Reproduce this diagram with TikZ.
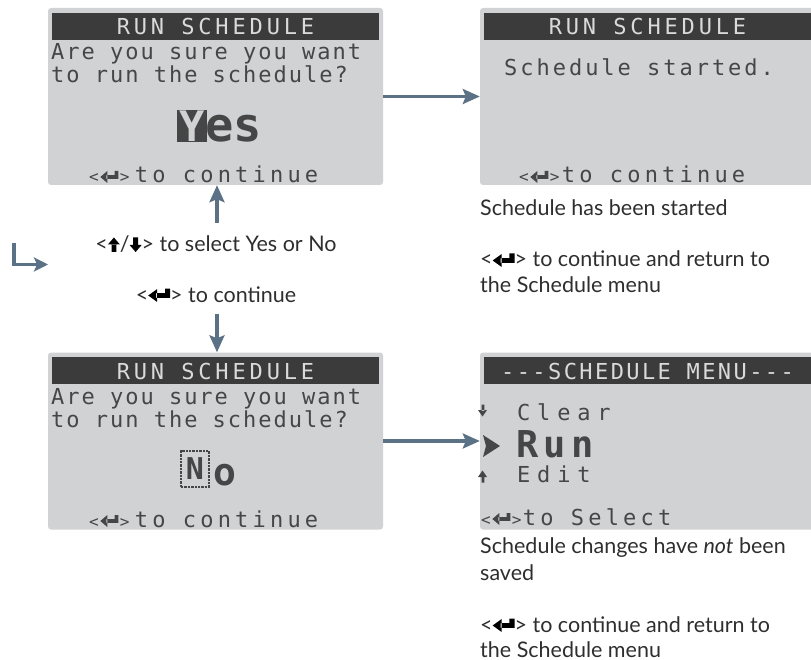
\documentclass[tikz,border=0pt]{standalone}
\usepackage{fontspec}
\setmainfont{Lato}
% dot-matrix display text, with different letter pitches per line type
\newfontfamily\lcdbody[LetterSpace=9]{DejaVu Sans Mono}
\newfontfamily\lcdhead[LetterSpace=17.5]{DejaVu Sans Mono}
\newfontfamily\lcdmenuhead[LetterSpace=11]{DejaVu Sans Mono}
\newfontfamily\lcdfoot[LetterSpace=19]{DejaVu Sans Mono}
\newfontfamily\lcdmenu[LetterSpace=31]{DejaVu Sans Mono}
\newfontfamily\lcdstart[LetterSpace=13.5]{DejaVu Sans Mono}
\newfontfamily\lcdrun[LetterSpace=15]{DejaVu Sans Mono}
\newfontfamily\lcdbig{DejaVu Sans Mono}
\usetikzlibrary{arrows.meta}

\definecolor{screenbg}{HTML}{D1D2D4}
\definecolor{headbg}{HTML}{3B3B3B}
\definecolor{lcdink}{HTML}{464646}
\definecolor{headink}{HTML}{DADADA}
\definecolor{flow}{HTML}{5A7186}
\definecolor{note}{HTML}{2E2E2E}

% small helpers for the key glyphs (plain pgf, in pt)
\newcommand\gtri[6]{\pgfpathmoveto{\pgfpoint{#1pt}{#2pt}}%
  \pgfpathlineto{\pgfpoint{#3pt}{#4pt}}%
  \pgfpathlineto{\pgfpoint{#5pt}{#6pt}}\pgfpathclose}
\newcommand\grect[4]{\pgfpathrectanglecorners{\pgfpoint{#1pt}{#2pt}}{\pgfpoint{#3pt}{#4pt}}}

\newsavebox\enterlcd
\newsavebox\enternote
\newsavebox\upnote
\newsavebox\downnote

% the "<enter>" key as shown on the display
\newcommand\lcdkey{{\fontsize{16}{16}\selectfont<}\hspace{1.5pt}\usebox\enterlcd\hspace{1.5pt}{\fontsize{16}{16}\selectfont>}}

\begin{document}
% key glyphs drawn once and reused inline
\sbox\enterlcd{\begin{pgfpicture}\pgfsetfillcolor{lcdink}%
  \gtri{0}{4.5}{7}{10.5}{7}{-1.5}\grect{6}{2.6}{18}{6.4}\grect{14.4}{2.6}{18}{10.5}%
  \pgfusepath{fill}\end{pgfpicture}}
\sbox\enternote{\begin{pgfpicture}\pgfsetfillcolor{black}%
  \gtri{0}{5.5}{9}{12}{9}{-1}\grect{8}{3.2}{22}{7.8}\grect{16.8}{3.2}{22}{12.5}%
  \pgfusepath{fill}\end{pgfpicture}}
\sbox\upnote{\begin{pgfpicture}\pgfsetfillcolor{black}%
  \gtri{0}{7.5}{6}{14.5}{12}{7.5}\grect{3.6}{0}{8.4}{8}%
  \pgfusepath{fill}\end{pgfpicture}}
\sbox\downnote{\begin{pgfpicture}\pgfsetfillcolor{black}%
  \gtri{0}{7}{6}{0}{12}{7}\grect{3.6}{6.5}{8.4}{14.5}%
  \pgfusepath{fill}\end{pgfpicture}}

\begin{tikzpicture}[x=1pt,y=-1pt,
  screen/.style={fill=screenbg, rounded corners=3pt, minimum width=335pt,
    minimum height=177pt, inner sep=0pt},
  headbar/.style={fill=headbg, minimum width=327pt, minimum height=27pt,
    inner sep=0pt},
  headtxt/.style={text=headink, inner sep=0pt, anchor=base,
    font=\lcdhead\fontsize{22}{22}\selectfont},
  lcdtxt/.style={text=lcdink, inner sep=0pt, anchor=base west,
    font=\lcdbody\fontsize{22}{22}\selectfont},
  foottxt/.style={lcdtxt, font=\lcdfoot\fontsize{22}{22}\selectfont},
  footkey/.style={lcdtxt, font=\lcdbig\fontsize{22}{22}\selectfont},
  menuitem/.style={lcdtxt, font=\lcdmenu\fontsize{22}{22}\selectfont},
  notetxt/.style={text=note, inner sep=0pt, anchor=base west,
    font=\fontsize{21.5}{21.5}\selectfont},
  captxt/.style={text=note, inner sep=0pt, anchor=base,
    font=\fontsize{21.5}{21.5}\selectfont},
  flowarrow/.style={draw=flow, line width=3.2pt,
    -{Stealth[length=17pt, width=15pt, inset=3pt]}}
]
\useasboundingbox (0,0) rectangle (811,660);

% ---- confirmation screen, "Yes" selected
\node[screen] (s1) at (215.5,96.5) {};
\node[headbar] (h1) at (215.5,26.5) {};
\node[headtxt] (h1t) at (215.5,35) {RUN SCHEDULE};
\node[lcdtxt] (s1l1) at (51,60) {Are you sure you want};
\node[lcdtxt] (s1l2) at (51,83) {to run the schedule?};
\node[fill=lcdink, text=screenbg, minimum width=30pt, minimum height=32pt,
      inner sep=0pt, font=\lcdbig\bfseries\fontsize{42}{42}\selectfont] (ycur) at (192,126) {Y};
\node[text=lcdink, inner sep=0pt, anchor=base west,
      font=\lcdbig\bfseries\fontsize{47}{47}\selectfont] (yrest) at (205,142) {es};
\node[footkey] (s1k) at (89,183) {\lcdkey};
\node[foottxt] (s1f) at ([xshift=5pt]s1k.base east) {to continue};

% ---- schedule started screen
\node[screen] (s2) at (647.5,96.5) {};
\node[headbar] (h2) at (647.5,26.5) {};
\node[headtxt] (h2t) at (647.5,35) {RUN SCHEDULE};
\node[lcdtxt, font=\lcdstart\fontsize{22}{22}\selectfont] (s2l1) at (504,76) {Schedule started.};
\node[footkey] (s2k) at (519,183) {\lcdkey};
\node[foottxt] (s2f) at ([xshift=2pt]s2k.base east) {to continue};

% ---- confirmation screen, "No" selected
\node[screen] (s3) at (215.5,441) {};
\node[headbar] (h3) at (215.5,370.5) {};
\node[headtxt] (h3t) at (215.5,379) {RUN SCHEDULE};
\node[lcdtxt] (s3l1) at (51,404) {Are you sure you want};
\node[lcdtxt] (s3l2) at (51,427) {to run the schedule?};
\node[draw=lcdink, densely dotted, line width=2.4pt, minimum width=28pt,
      minimum height=36pt, inner sep=0pt, text=lcdink,
      font=\lcdbig\bfseries\fontsize{30}{30}\selectfont] (ncur) at (195,469) {N};
\node[text=lcdink, inner sep=0pt, anchor=base west,
      font=\lcdbig\bfseries\fontsize{38}{38}\selectfont] (nrest) at (213,485) {o};
\node[footkey] (s3k) at (89,527) {\lcdkey};
\node[foottxt] (s3f) at ([xshift=5pt]s3k.base east) {to continue};

% ---- schedule menu screen
\node[screen] (s4) at (647.5,441) {};
\node[headbar] (h4) at (647.5,370.5) {};
\node[headtxt, font=\lcdmenuhead\fontsize{22}{22}\selectfont] (h4t) at (647.5,379) {---SCHEDULE MENU---};
\node[menuitem] (m1t) at (517,420) {Clear};
\node[lcdtxt, font=\lcdrun\bfseries\fontsize{37}{37}\selectfont] (m2t) at (516,457) {Run};
\node[menuitem] (m3t) at (517,482) {Edit};
\node[footkey] (s4k) at (481,525) {\lcdkey};
\node[foottxt] (s4f) at ([xshift=1pt]s4k.base east) {to Select};
% scroll marks and cursor of the menu
\fill[lcdink] (481.6,404.5) rectangle (484.4,411) (478,410) -- (487,410) -- (482.5,416.5) -- cycle;
\fill[lcdink] (483,435) -- (500,446) -- (483,457) -- (486,446) -- cycle;
\fill[lcdink] (481.6,476) rectangle (484.4,482.5) (478,477) -- (487,477) -- (482.5,470.5) -- cycle;

% ---- captions beside the flow
\node[captxt] (sel) at (216,252)
  {<\usebox\upnote/\usebox\downnote> to select Yes or No};
\node[captxt] (cont) at (216,302) {<\usebox\enternote> to continue};

% ---- notes under the right-hand screens
\node[notetxt] (n1a) at (480,216) {Schedule has been started};
\node[notetxt] (n1b) at (480,267) {<\usebox\enternote> to continue and return to};
\node[notetxt] (n1c) at (480,293) {the Schedule menu};
\node[notetxt] (n2a) at (480,553) {Schedule changes have \textit{not} been};
\node[notetxt] (n2b) at (480,580) {saved};
\node[notetxt] (n2c) at (480,632) {<\usebox\enternote> to continue and return to};
\node[notetxt] (n2d) at (480,657) {the Schedule menu};

% ---- flow arrows
\coordinate (upfoot) at (217,223);
\coordinate (downhead) at (217,314);
\coordinate (loopa) at (14,243);
\coordinate (loopb) at (14,264.5);
\coordinate (loopc) at (48,264.5);

\draw[flowarrow] (s1.east) -- (s2.west);
\draw[flowarrow] (s3.east) -- (s4.west);
\draw[flowarrow] (upfoot) -- (s1.south -| upfoot);
\draw[flowarrow] (downhead) -- (s3.north -| downhead);
\draw[draw=flow, line width=3.2pt, -{Stealth[length=14pt, width=14pt, inset=3pt]}]
  (loopa) -- (loopb) -- (loopc);
\end{tikzpicture}
\end{document}
